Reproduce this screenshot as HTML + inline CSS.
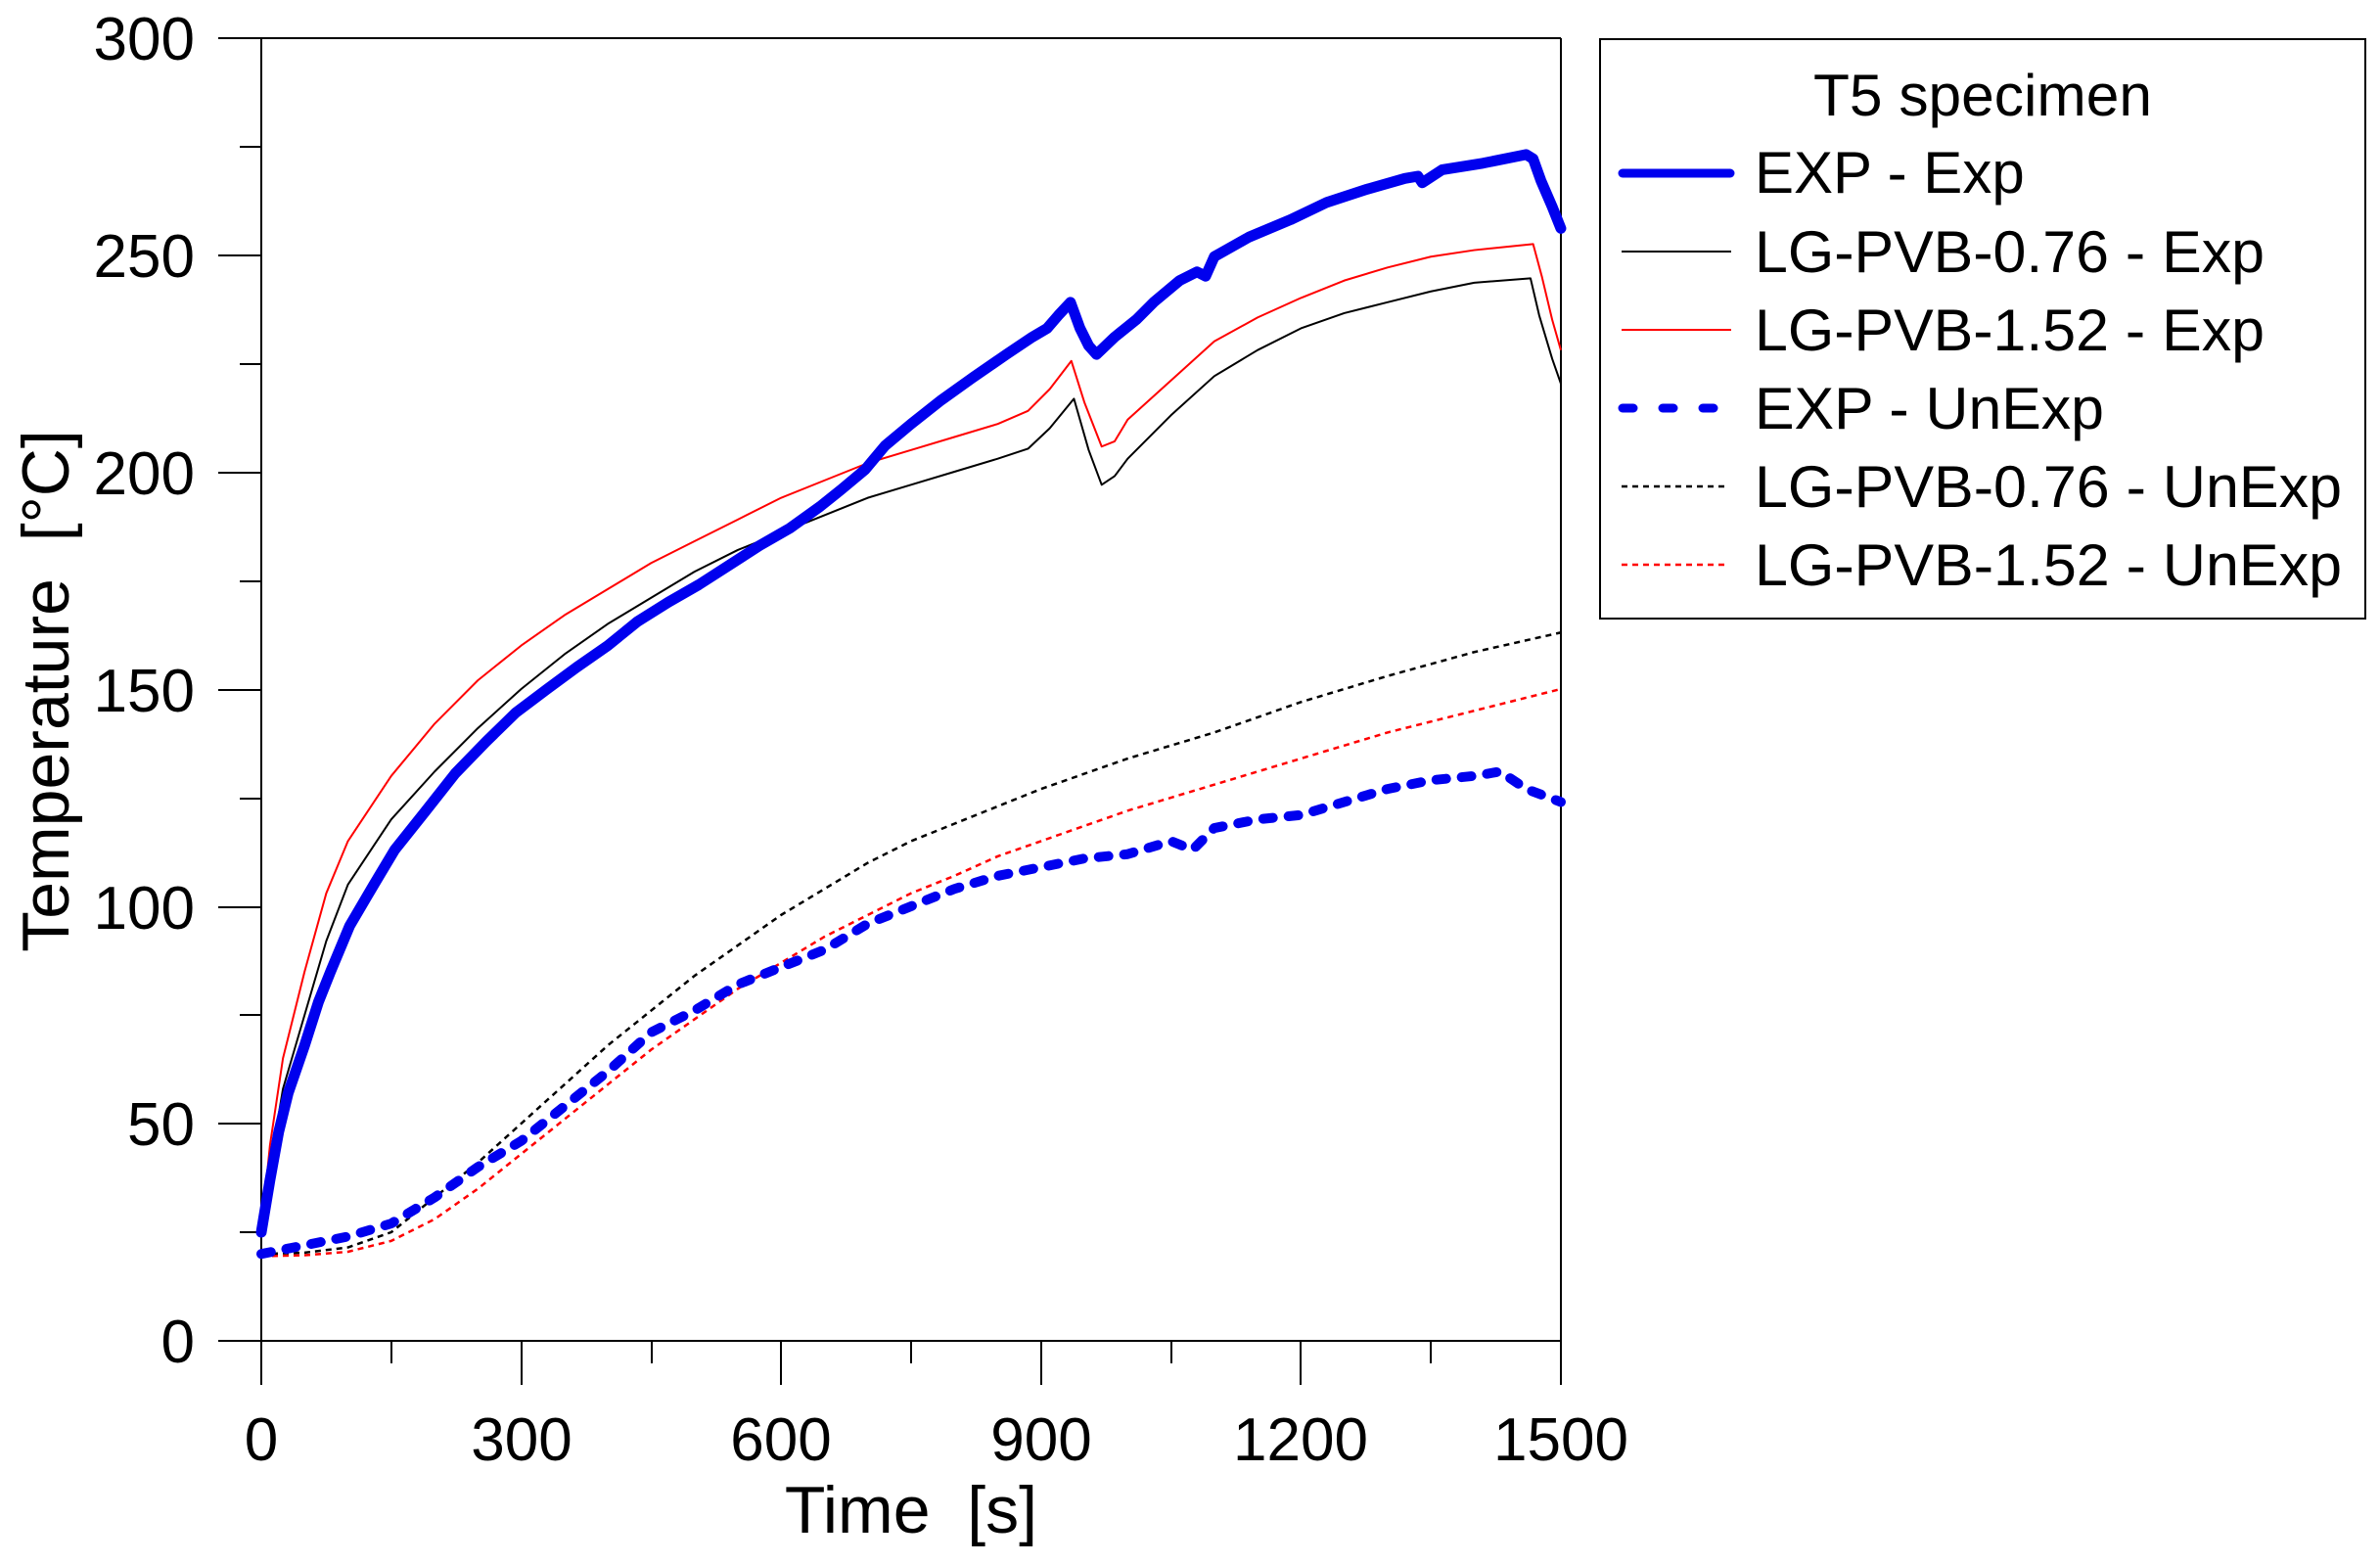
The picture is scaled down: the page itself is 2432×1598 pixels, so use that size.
<!DOCTYPE html>
<html><head><meta charset="utf-8"><style>
html,body{margin:0;padding:0;background:#fff;}
svg{display:block;}
text{font-family:"Liberation Sans",Arial,sans-serif;fill:#000;}
</style></head><body>
<svg width="2432" height="1598" viewBox="0 0 2432 1598" xmlns="http://www.w3.org/2000/svg">
<rect width="2432" height="1598" fill="#fff"/>
<g stroke="#000" stroke-width="2" fill="none">
<line x1="223" y1="39" x2="1595" y2="39"/>
<line x1="1595" y1="39" x2="1595" y2="1370"/>
<line x1="223" y1="1370" x2="1595" y2="1370"/>
<line x1="267" y1="39" x2="267" y2="1415"/>
<line x1="223" y1="261" x2="267" y2="261"/>
<line x1="223" y1="483" x2="267" y2="483"/>
<line x1="223" y1="705" x2="267" y2="705"/>
<line x1="223" y1="927" x2="267" y2="927"/>
<line x1="223" y1="1148" x2="267" y2="1148"/>
<line x1="245" y1="150" x2="267" y2="150"/>
<line x1="245" y1="372" x2="267" y2="372"/>
<line x1="245" y1="594" x2="267" y2="594"/>
<line x1="245" y1="816" x2="267" y2="816"/>
<line x1="245" y1="1037" x2="267" y2="1037"/>
<line x1="245" y1="1259" x2="267" y2="1259"/>
<line x1="533" y1="1370" x2="533" y2="1415"/>
<line x1="798" y1="1370" x2="798" y2="1415"/>
<line x1="1064" y1="1370" x2="1064" y2="1415"/>
<line x1="1329" y1="1370" x2="1329" y2="1415"/>
<line x1="1595" y1="1370" x2="1595" y2="1415"/>
<line x1="400" y1="1370" x2="400" y2="1393"/>
<line x1="666" y1="1370" x2="666" y2="1393"/>
<line x1="931" y1="1370" x2="931" y2="1393"/>
<line x1="1197" y1="1370" x2="1197" y2="1393"/>
<line x1="1462" y1="1370" x2="1462" y2="1393"/>
</g>
<g font-size="62" text-anchor="end">
<text x="199" y="61">300</text>
<text x="199" y="283">250</text>
<text x="199" y="505">200</text>
<text x="199" y="727">150</text>
<text x="199" y="949">100</text>
<text x="199" y="1170">50</text>
<text x="199" y="1392">0</text>
</g>
<g font-size="62" text-anchor="middle">
<text x="267" y="1492">0</text>
<text x="533" y="1492">300</text>
<text x="798" y="1492">600</text>
<text x="1064" y="1492">900</text>
<text x="1329" y="1492">1200</text>
<text x="1595" y="1492">1500</text>
</g>
<text x="931" y="1566" font-size="68" text-anchor="middle" xml:space="preserve">Time  [s]</text>
<text transform="translate(70,706) rotate(-90)" font-size="68" text-anchor="middle" xml:space="preserve">Temperature  [°C]</text>

<g transform="translate(267,1370) scale(0.8853,-4.44)" fill="none" stroke-linejoin="round">
<polyline vector-effect="non-scaling-stroke" stroke="#ff0000" stroke-width="2.5" stroke-dasharray="6,5"
 points="0,19.5 50,19.7 100,20.5 150,23 200,28 250,35 300,43 350,51 400,59 450,67 500,74 550,81 600,87 650,93 700,98 750,103 800,107 850,111.5 900,115 950,118.5 1000,122 1100,128 1200,134 1300,140 1400,145 1500,150"/>
<polyline vector-effect="non-scaling-stroke" stroke="#000" stroke-width="2.5" stroke-dasharray="6,5"
 points="0,20 50,20.3 100,21.5 150,25 200,33 250,41 300,50 350,59 400,68 450,76 500,84 550,91 600,98 650,104 700,110 750,115 800,119 850,123 900,127 950,130.5 1000,134 1100,140 1200,147 1300,153 1400,158.5 1500,163"/>
<polyline vector-effect="non-scaling-stroke" stroke="#0000ee" stroke-width="10" stroke-linecap="round" stroke-dasharray="10,16"
 points="0,20 50,22 100,24 150,27 200,33 250,40 300,46 350,54 400,62 450,71 500,76 550,82 600,86 650,90 700,96 750,100 800,104 850,107 900,109 950,111 1000,112 1050,115 1075,113 1100,118 1150,120 1200,121 1250,124 1300,127 1350,129 1400,130 1430,131 1460,127 1500,124"/>
<polyline vector-effect="non-scaling-stroke" stroke="#000" stroke-width="2"
 points="0,25 10,40 25,58 50,75 75,92 100,105 150,120 200,131 250,141 300,150 350,158 400,165 450,171 500,177 550,182 600,186 650,190 700,194 750,197 800,200 850,203 885,205.3 910,210 938,216.8 955,205 970,197 985,199 1000,203 1050,213 1100,222 1150,228 1200,233 1250,236.5 1300,239 1350,241.5 1400,243.5 1465,244.5 1475,236 1490,226 1500,220.3"/>
<polyline vector-effect="non-scaling-stroke" stroke="#ff0000" stroke-width="2"
 points="0,25 10,45 25,65 50,85 75,103 100,115 150,130 200,142 250,152 300,160 350,167 400,173 450,179 500,184 550,189 600,194 650,198 700,202 750,205 800,208 850,211 885,214 910,219 935,225.5 950,216 970,205.8 985,207 1000,212 1050,221 1100,230 1150,235.5 1200,240 1250,244 1300,247 1350,249.5 1400,251 1468,252.4 1478,245 1490,235 1500,228"/>
<polyline vector-effect="non-scaling-stroke" stroke="#0000ee" stroke-width="11" stroke-linecap="round"
 points="0,25 10,37 20,48 31,57 50,68 66,78 80,85 102,95.5 130,105 154,113 190,122 224,130.6 260,138 294,144.6 330,150 364,155 400,160 434,165.5 470,170 505,174 540,178.5 575,183 610,187 645,192 670,196 697,200.5 720,206 750,211 785,216.5 820,221.5 860,227 890,231 907,233 920,236 934,239 945,233 955,229 964,227 985,231 1010,235 1030,239 1060,244 1080,246 1090,245 1100,249.5 1140,254 1188,258 1230,262 1276,265 1320,267.5 1335,268 1340,266.5 1363,269.5 1410,271 1460,273 1468,272 1477,267 1490,261 1500,256"/>
</g>

<rect x="1635" y="40" width="782" height="592" fill="none" stroke="#000" stroke-width="2"/>
<g font-size="60">
<text x="1853" y="118" textLength="346" lengthAdjust="spacingAndGlyphs">T5 specimen</text>
<text x="1793" y="197">EXP - Exp</text>
<text x="1793" y="278" textLength="521" lengthAdjust="spacingAndGlyphs">LG-PVB-0.76 - Exp</text>
<text x="1793" y="358" textLength="521" lengthAdjust="spacingAndGlyphs">LG-PVB-1.52 - Exp</text>
<text x="1793" y="438" textLength="357" lengthAdjust="spacingAndGlyphs">EXP - UnExp</text>
<text x="1793" y="518" textLength="600" lengthAdjust="spacingAndGlyphs">LG-PVB-0.76 - UnExp</text>
<text x="1793" y="598" textLength="600" lengthAdjust="spacingAndGlyphs">LG-PVB-1.52 - UnExp</text>
</g>
<g fill="none">
<line x1="1658" y1="177" x2="1768" y2="177" stroke="#0000ee" stroke-width="9" stroke-linecap="round"/>
<line x1="1657" y1="257" x2="1769" y2="257" stroke="#000" stroke-width="2"/>
<line x1="1657" y1="337" x2="1769" y2="337" stroke="#ff0000" stroke-width="2"/>
<line x1="1658" y1="417" x2="1762" y2="417" stroke="#0000ee" stroke-width="9" stroke-linecap="round" stroke-dasharray="11,30"/>
<line x1="1657" y1="497" x2="1765" y2="497" stroke="#000" stroke-width="2.5" stroke-dasharray="6,5"/>
<line x1="1657" y1="577" x2="1765" y2="577" stroke="#ff0000" stroke-width="2.5" stroke-dasharray="6,5"/>
</g>
</svg>
</body></html>
